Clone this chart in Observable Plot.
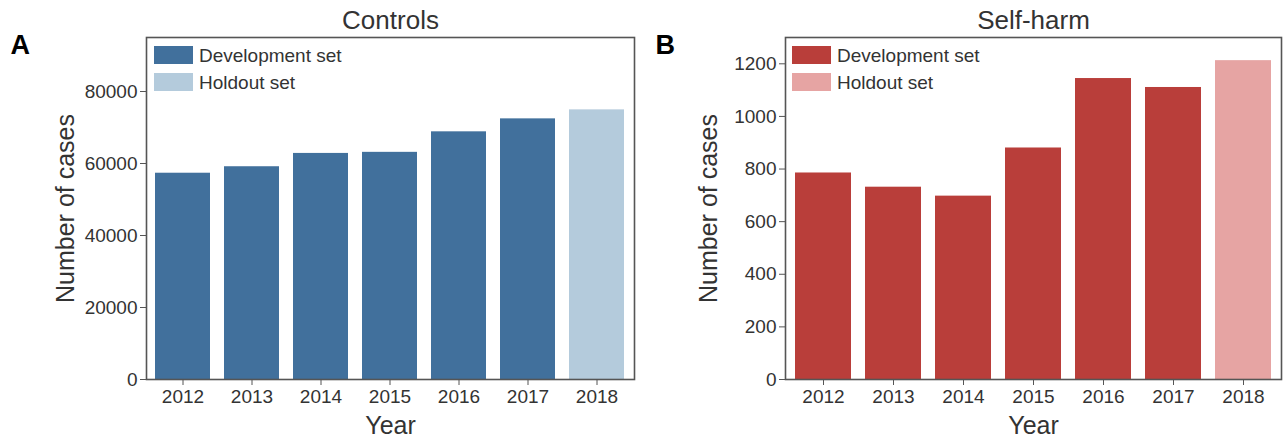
<!DOCTYPE html>
<html>
<head>
<meta charset="utf-8">
<script src="https://cdn.jsdelivr.net/npm/d3@7"></script>
<script src="https://cdn.jsdelivr.net/npm/@observablehq/plot@0.6"></script>
<style>
  html, body { margin: 0; padding: 0; background: #fff; }
  body { width: 1283px; height: 439px; position: relative; overflow: hidden;
         font-family: "Liberation Sans", Arial, Helvetica, sans-serif; color: #333; }
  .panel { position: absolute; top: 0; }
  .legend { position: absolute; font-size: 19px; color: #333; line-height: 1; }
  .legend .row { display: flex; align-items: center; height: 18px; margin-bottom: 9px; }
  .legend .sw { width: 39px; height: 18px; margin-right: 6px; }
</style>
</head>
<body>
<div id="panelA" class="panel" style="left:0px;width:640px;"></div>
<div id="panelB" class="panel" style="left:640px;width:643px;"></div>
<script>
// Case counts per year, split into development years and the holdout year
const years = ["2012", "2013", "2014", "2015", "2016", "2017", "2018"];
const splitOfYear = ["Development set", "Development set", "Development set", "Development set",
                     "Development set", "Development set", "Holdout set"];
const controlsCounts = [57300, 59100, 62800, 63100, 68800, 72400, 74900];
const selfHarmCounts = [785, 731, 697, 880, 1144, 1110, 1212];

const splitNames = ["Development set", "Holdout set"];
const controlsColors = ["#41709c", "#b4cbdc"];
const selfHarmColors = ["#b93e3a", "#e6a4a3"];

const controlsTicks = [0, 20000, 40000, 60000, 80000];
const selfHarmTicks = [0, 200, 400, 600, 800, 1000, 1200];

const font = '"Liberation Sans", Arial, Helvetica, sans-serif';

function panel({counts, colors, ticks, yMax, title, letter, width, marginLeft, marginRight, labelDx, letterDx}) {
  const rows = years.map((year, i) => ({year, count: counts[i], split: splitOfYear[i]}));
  return Plot.plot({
    width,
    height: 439,
    marginTop: 37,
    marginBottom: 60,
    marginLeft,
    marginRight,
    style: {fontFamily: font, color: "#333", background: "#fff", overflow: "visible"},
    x: {domain: years, paddingInner: 0.2, paddingOuter: 0.1, label: null},
    y: {domain: [0, yMax], label: null},
    color: {domain: splitNames, range: colors},
    marks: [
      Plot.barY(rows, {x: "year", y: "count", fill: "split"}),
      Plot.frame({stroke: "#555", strokeWidth: 1.6}),
      Plot.axisY({ticks, tickFormat: d3.format("d"), tickSize: 6, tickPadding: 3,
                  fontSize: 19, stroke: "#555", fill: "#333", label: null}),
      Plot.axisX({tickSize: 6, tickPadding: 4, fontSize: 19, stroke: "#555", fill: "#333", label: null}),
      // panel title above the frame
      Plot.text([title], {frameAnchor: "top", lineAnchor: "middle", textAnchor: "middle",
                          dy: -17, fontSize: 26, fill: "#333"}),
      // vertical axis title
      Plot.text(["Number of cases"], {frameAnchor: "left", lineAnchor: "middle", textAnchor: "middle",
                                      rotate: -90, dx: labelDx, fontSize: 25, fill: "#333"}),
      // horizontal axis title
      Plot.text(["Year"], {frameAnchor: "bottom", lineAnchor: "middle", textAnchor: "middle",
                           dy: 46, fontSize: 25, fill: "#333"}),
      // panel letter
      Plot.text([letter], {frameAnchor: "top-left", lineAnchor: "middle", textAnchor: "start",
                           dx: letterDx, dy: 8, fontSize: 27, fontWeight: "bold", fill: "#000"})
    ]
  });
}

function legend(container, colors, left) {
  const box = document.createElement("div");
  box.className = "legend";
  box.style.left = left + "px";
  box.style.top = "46px";
  splitNames.forEach((name, i) => {
    const row = document.createElement("div");
    row.className = "row";
    const sw = document.createElement("div");
    sw.className = "sw";
    sw.style.background = colors[i];
    const label = document.createElement("span");
    label.textContent = name;
    row.appendChild(sw);
    row.appendChild(label);
    box.appendChild(row);
  });
  container.appendChild(box);
}

const a = document.getElementById("panelA");
a.appendChild(panel({counts: controlsCounts, colors: controlsColors, ticks: controlsTicks, yMax: 95000,
  title: "Controls", letter: "A", width: 640, marginLeft: 146, marginRight: 6, labelDx: -81, letterDx: -136}));
legend(a, controlsColors, 154);

const b = document.getElementById("panelB");
b.appendChild(panel({counts: selfHarmCounts, colors: selfHarmColors, ticks: selfHarmTicks, yMax: 1300,
  title: "Self-harm", letter: "B", width: 643, marginLeft: 145, marginRight: 2, labelDx: -77, letterDx: -130}));
legend(b, selfHarmColors, 152);
</script>
</body>
</html>
